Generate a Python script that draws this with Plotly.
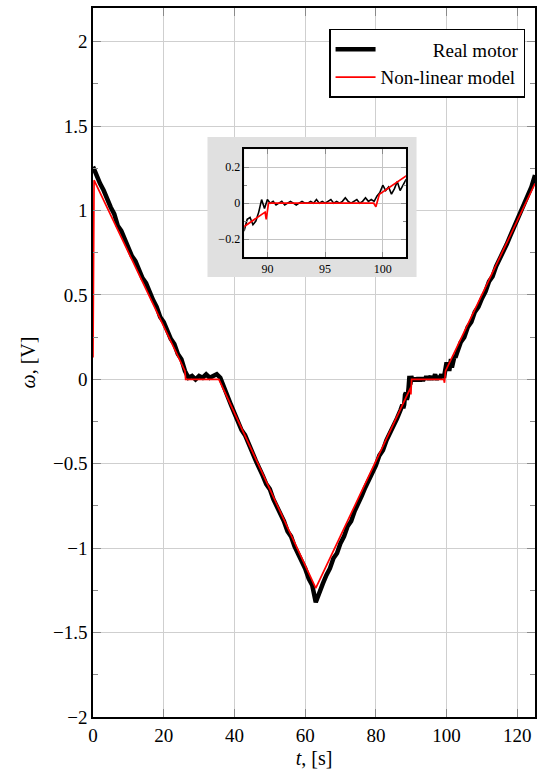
import plotly.graph_objects as go

# ---------------- data ----------------
# Non-linear model: breakpoints of the piecewise-linear response
model_t = [0, 0.3, 26.0, 26.2, 35.6, 63.0, 89.8, 89.9, 90.1, 99.2, 99.4, 99.7, 125]
model_w = [0.13, 1.18, 0.05, 0.0, 0.0, -1.237, -0.05, -0.09, 0.0, 0.0, -0.02, 0.05, 1.16]

# Real motor: measured angular speed (sampled from the trace)
real_t_a = list(range(0, 87))
real_w_a = [1.26, 1.20, 1.16, 1.12, 1.06, 1.02, 0.98, 0.91, 0.88, 0.83,
            0.79, 0.73, 0.70, 0.65, 0.60, 0.57, 0.51, 0.47, 0.43, 0.37,
            0.34, 0.29, 0.24, 0.21, 0.15, 0.12, 0.05, 0.01, 0.02, 0.00,
            0.02, 0.01, 0.03, 0.01, 0.02, 0.03, 0.01, -0.05, -0.11, -0.15,
            -0.20, -0.25, -0.30, -0.33, -0.39, -0.43, -0.48, -0.52, -0.57, -0.62,
            -0.65, -0.71, -0.75, -0.80, -0.84, -0.90, -0.93, -0.99, -1.03, -1.08,
            -1.12, -1.18, -1.22, -1.32, -1.26, -1.21, -1.16, -1.12, -1.06, -1.03,
            -0.97, -0.93, -0.87, -0.84, -0.78, -0.74, -0.69, -0.64, -0.60, -0.55,
            -0.51, -0.45, -0.42, -0.36, -0.32, -0.27, -0.23]
real_t_b = [87 + 0.25 * k for k in range(65)]
real_w_b = [-0.18, -0.17, -0.15, -0.17, -0.15, -0.09, -0.08, -0.12, -0.10, -0.05,
            0.02, -0.03, 0.02, 0.00, 0.01, -0.01, 0.00, 0.01, -0.01, 0.00,
            0.01, 0.00, -0.01, 0.00, 0.01, 0.00, 0.00, 0.01, 0.00, 0.02,
            0.00, 0.01, 0.00, 0.01, 0.02, 0.00, 0.01, 0.00, 0.01, 0.03,
            0.01, 0.00, 0.01, 0.02, 0.00, 0.01, 0.03, 0.01, 0.02, 0.01,
            0.04, 0.06, 0.10, 0.07, 0.09, 0.05, 0.08, 0.12, 0.07, 0.10,
            0.13, 0.14, 0.13, 0.15, 0.16]
real_t_c = list(range(104, 126))
real_w_c = [0.22, 0.25, 0.31, 0.34, 0.40, 0.43, 0.48, 0.52, 0.58, 0.61,
            0.67, 0.71, 0.76, 0.80, 0.85, 0.90, 0.94, 0.99, 1.04, 1.09,
            1.14, 1.21]
real_t = real_t_a + real_t_b + real_t_c
real_w = real_w_a + real_w_b + real_w_c

# axes / ticks
x_range = [0, 125]
y_range = [-2, 2.2]
x_ticks = [0, 20, 40, 60, 80, 100, 120]
y_ticks = [-2, -1.5, -1, -0.5, 0, 0.5, 1, 1.5, 2]
y_ticklabels = ["\u22122", "\u22121.5", "\u22121", "\u22120.5", "0", "0.5", "1", "1.5", "2"]
inset_x_range = [88, 102]
inset_y_range = [-0.3, 0.3]
inset_x_ticks = [90, 95, 100]
inset_y_ticks = [-0.2, 0, 0.2]
inset_y_ticklabels = ["\u22120.2", "0", "0.2"]

FONT = "Liberation Serif, Times New Roman, serif"
GRID = "#cfcfcf"
TICK = "#8a8a8a"

fig = go.Figure()

# main traces
fig.add_trace(go.Scatter(x=real_t, y=real_w, mode="lines",
                         line=dict(color="black", width=4.5),
                         name="\u00a0" * 11 + "Real motor", xaxis="x", yaxis="y"))
fig.add_trace(go.Scatter(x=model_t, y=model_w, mode="lines",
                         line=dict(color="#ff0000", width=1.7),
                         name="Non-linear model", xaxis="x", yaxis="y"))
# inset traces
fig.add_trace(go.Scatter(x=real_t, y=real_w, mode="lines",
                         line=dict(color="black", width=1.6),
                         showlegend=False, xaxis="x2", yaxis="y2"))
fig.add_trace(go.Scatter(x=model_t, y=model_w, mode="lines",
                         line=dict(color="#ff0000", width=1.7),
                         showlegend=False, xaxis="x2", yaxis="y2"))

# inset placement (paper fractions of the main plot area)
inset_dx = [0.3423, 0.7079]
inset_dy = [0.6488, 0.8007]
panel_px = [0.2590, 0.7320]
panel_py = [0.6206, 0.8181]

def px2x(f):
    return x_range[0] + f * (x_range[1] - x_range[0])

def py2y(f):
    return y_range[0] + f * (y_range[1] - y_range[0])

fig.add_shape(type="rect", xref="x", yref="y",
              x0=px2x(panel_px[0]), x1=px2x(panel_px[1]),
              y0=py2y(panel_py[0]), y1=py2y(panel_py[1]),
              fillcolor="#e0e0e0", line=dict(width=0), layer="between")

fig.update_layout(
    width=537, height=774,
    margin=dict(l=93, r=0, t=8, b=57),
    paper_bgcolor="white", plot_bgcolor="white",
    font=dict(family=FONT, size=19, color="black"),
    showlegend=True,
    legend=dict(x=0.9775, y=0.9704, xanchor="right", yanchor="top",
                bgcolor="white", bordercolor="black", borderwidth=1.5,
                font=dict(family=FONT, size=19), itemwidth=40,
                tracegroupgap=0),
    xaxis=dict(range=x_range, domain=[0, 1], tickvals=x_ticks,
               ticks="inside", ticklen=8, tickcolor=TICK, tickwidth=1,
               showgrid=True, gridcolor=GRID, gridwidth=1,
               showline=True, linecolor="black", linewidth=1.6,
               mirror="allticks", zeroline=False,
               title=dict(text="<i>t</i>, [s]", standoff=6,
                          font=dict(family=FONT, size=20)),
               tickfont=dict(family=FONT, size=19)),
    yaxis=dict(range=y_range, domain=[0, 1], tickvals=y_ticks,
               ticktext=y_ticklabels,
               ticks="inside", ticklen=8, tickcolor=TICK, tickwidth=1,
               minor=dict(dtick=0.25, tick0=0, ticks="inside", ticklen=5,
                          tickcolor=TICK, showgrid=False),
               showgrid=True, gridcolor=GRID, gridwidth=1,
               showline=True, linecolor="black", linewidth=1.6,
               mirror="allticks", zeroline=False,
               title=dict(text="<i>\u03c9</i>, [V]", standoff=12,
                          font=dict(family=FONT, size=20)),
               tickfont=dict(family=FONT, size=19)),
    xaxis2=dict(range=inset_x_range, domain=inset_dx, anchor="y2",
                tickvals=inset_x_ticks,
                ticks="inside", ticklen=5, tickcolor=TICK,
                showgrid=True, gridcolor="#c4c4c4",
                showline=True, linecolor="black", linewidth=1.5,
                mirror="allticks", zeroline=False,
                tickfont=dict(family=FONT, size=12)),
    yaxis2=dict(range=inset_y_range, domain=inset_dy, anchor="x2",
                tickvals=inset_y_ticks, ticktext=inset_y_ticklabels,
                ticks="inside", ticklen=5, tickcolor=TICK,
                minor=dict(dtick=0.1, tick0=0, ticks="inside", ticklen=3,
                           tickcolor=TICK, showgrid=False),
                showgrid=True, gridcolor="#c4c4c4",
                showline=True, linecolor="black", linewidth=1.5,
                mirror="allticks", zeroline=False,
                tickfont=dict(family=FONT, size=12)),
)

fig.write_html("out.html")
